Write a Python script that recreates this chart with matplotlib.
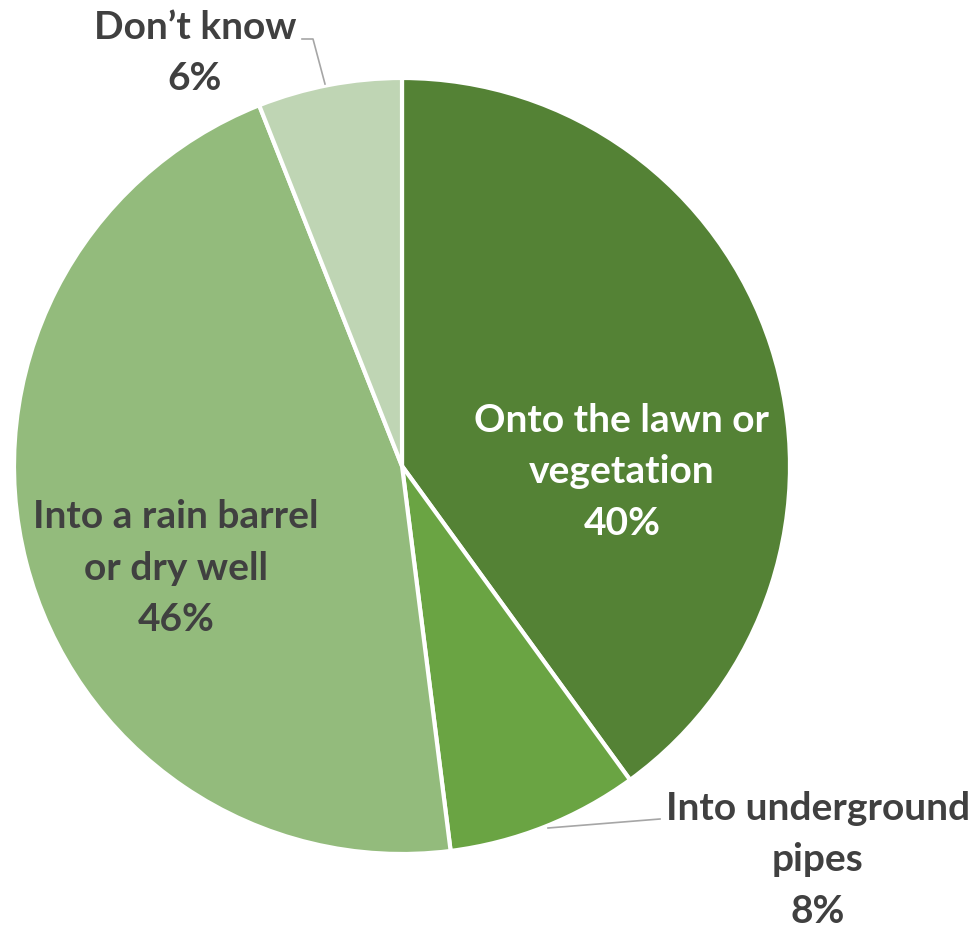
import matplotlib.pyplot as plt

# Where roof runoff goes (share of respondents)
labels = ["Onto the lawn or\nvegetation", "Into underground\npipes",
          "Into a rain barrel\nor dry well", "Don\u2019t know"]
shares = [40, 8, 46, 6]
colors = ["#548235", "#6aa443", "#93bb7c", "#bfd5b4"]

W, H = 978, 928
fig = plt.figure(figsize=(W / 100, H / 100), dpi=100)
ax = fig.add_axes([0, 0, 1, 1])

cx, cy, r = 402, H - 467, 388
ax.pie(shares, colors=colors, startangle=90, counterclock=False,
       center=(cx, cy), radius=r, frame=True,
       wedgeprops=dict(edgecolor="white", linewidth=3))
ax.set_xlim(0, W)
ax.set_ylim(0, H)
ax.set_aspect("equal")
ax.axis("off")

font = dict(family=["Lato", "DejaVu Sans"], fontsize=28, fontweight="bold",
            ha="center", va="center", linespacing=1.58)
dark = "#404040"

ax.text(622, H - 472, f"{labels[0]}\n{shares[0]}%", color="white", **font)
ax.text(176, H - 568, f"{labels[2]}\n{shares[2]}%", color=dark, **font)
ax.text(818, H - 860, f"{labels[1]}\n{shares[1]}%", color=dark, **font)
ax.text(195, H - 53, f"{labels[3]}\n{shares[3]}%", color=dark, **font)

# leader lines for the two outside labels
ax.plot([302, 313, 325], [H - 40, H - 40, H - 85], color="#a6a6a6", lw=1.2)
ax.plot([660, 548], [H - 820, H - 829], color="#a6a6a6", lw=1.2)

fig.savefig("out.png", dpi=100)
